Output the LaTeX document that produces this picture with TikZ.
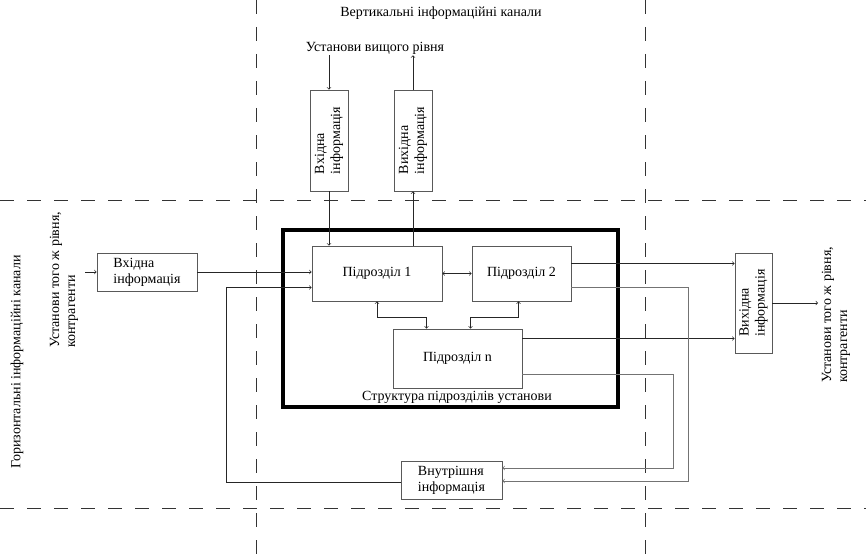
\documentclass[tikz,border=0pt]{standalone}
\usepackage{fontspec}
\setmainfont{Liberation Serif}
\begin{document}
\begin{tikzpicture}[x=1pt, y=-1pt, font=\fontsize{14}{16}\selectfont]
  % Styling
  \tikzset{
    box/.style={
      rectangle,
      draw=black!65,
      line width=0.8pt,
      fill=white,
      align=left,
      inner sep=2pt
    },
    unit/.style={
      box,
      minimum height=55pt
    },
    outer/.style={
      rectangle,
      draw=black,
      line width=3.5pt,
      minimum width=335pt,
      minimum height=177pt
    },
    arrow/.style={
      ->,
      line width=0.7pt,
      black!85
    },
    darrow/.style={
      <->,
      line width=0.7pt,
      black!85
    },
    backflow/.style={
      ->,
      line width=0.7pt,
      black!55
    },
    txt/.style={
      black,
      align=left,
      inner sep=1pt
    },
    channel/.style={
      dash pattern=on 14pt off 13pt,
      line width=0.7pt,
      black!80
    }
  }
  \useasboundingbox (0,0) rectangle (866,559);

  % ===== Channel borders =====
  \draw[channel] (256,0) -- (256,559);
  \draw[channel] (645,0) -- (645,559);
  \draw[channel] (0,200) -- (866,200);
  \draw[channel] (0,508) -- (866,508);

  % ===== Vertical channels =====
  \node[txt] (vtitle) at (441,13) {Вертикальні інформаційні канали};
  \node[txt] (higher) at (375,48) {Установи вищого рівня};

  % Input / output boxes
  \node[box, rotate=90, minimum width=101pt, minimum height=38pt] (inV) at (329,140.5) {Вхідна\\інформація};
  \node[box, rotate=90, minimum width=101pt, minimum height=38pt] (outV) at (413,140.5) {Вихідна\\інформація};

  % ===== Structure of the institution =====
  \node[outer] (struct) at (450.5,318.5) {};
  \node[txt] (structlabel) at (457,397) {Структура підрозділів установи};

  \node[unit, minimum width=130pt] (p1) at (377,273.5) {Підрозділ 1};
  \node[unit, minimum width=99pt] (p2) at (521.5,273.5) {Підрозділ 2};
  \node[unit, minimum width=129pt, minimum height=59pt] (pn) at (457.5,358.5) {Підрозділ n};

  % Arrows of the vertical channel
  \draw[arrow] (higher.south -| inV.east) -- (inV.east);
  \draw[arrow] (outV.east) -- (outV.east |- higher.south);
  \draw[arrow] (inV.west) -- (inV.west |- p1.north);
  \draw[arrow] (outV.west |- p1.north) -- (outV.west);

  % Links between units
  \draw[darrow] (p1.east) -- (p2.west);
  \draw[darrow] (p1.south) -- ++(0,16) -| ([xshift=-31pt]pn.north);
  \draw[darrow] ([xshift=-3pt]p2.south) -- ++(0,16) -| ([xshift=13pt]pn.north);

  % ===== Horizontal channels =====
  \node[txt, rotate=90] (horiz) at (17,362) {Горизонтальні інформаційні канали};
  \node[txt, rotate=90] (peersL) at (64,280) {Установи того ж рівня,\\контрагенти};
  \node[txt, rotate=90] (peersR) at (836,315) {Установи того ж рівня,\\контрагенти};

  \node[box, minimum width=100pt, minimum height=38pt] (inL) at (147,272) {Вхідна\\інформація};
  \node[box, rotate=90, minimum width=100pt, minimum height=37pt] (outR) at (753.5,303) {Вихідна\\інформація};
  \node[box, minimum width=101pt, minimum height=38pt] (intern) at (451.5,480) {Внутрішня\\інформація};

  \coordinate (srcL) at (85,272);
  \coordinate (dstR) at (818,303);

  % Incoming information
  \draw[arrow] (srcL) -- (inL.west);
  \draw[arrow] (inL.east) -- (inL.east -| p1.west);

  % Outgoing information
  \draw[arrow] ([yshift=10pt]p2.east) -- ([yshift=10pt]p2.east -| outR.north);
  \draw[arrow] ([yshift=20pt]pn.east) -- ([yshift=20pt]pn.east -| outR.north);
  \draw[arrow] (outR.south) -- (dstR);

  % Internal information loop
  \draw[backflow] ([yshift=-13.5pt]p2.east) -- ++(117,0) |- ([yshift=-1pt]intern.east);
  \draw[backflow] ([yshift=-15.5pt]pn.east) -- ++(151,0) |- ([yshift=12pt]intern.east);
  \draw[arrow] ([yshift=-2pt]intern.west) -- ++(-174,0) |- ([yshift=-14pt]p1.west);

\end{tikzpicture}
\end{document}
